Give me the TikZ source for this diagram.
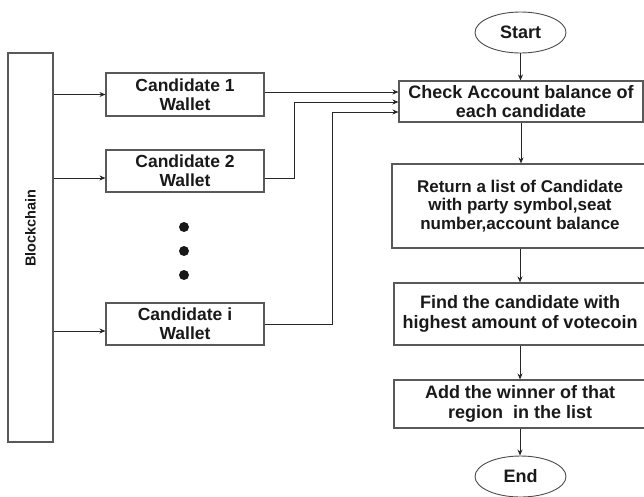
\documentclass[tikz,border=0pt]{standalone}
\usepackage{fontspec}
\setmainfont{Liberation Sans}
\usetikzlibrary{shapes,arrows.meta}

\begin{document}
\begin{tikzpicture}[x=1pt,y=-1pt]
\tikzstyle{every node}=
[
	font=\bfseries\fontsize{18}{19.3}\selectfont,
	text=black!90, align=center, inner sep=0pt
]
\tikzstyle{flow-box}=[draw=black!65, line width=1.1pt, rectangle]
\tikzstyle{wallet-box}=
[
	flow-box, minimum width=158pt, minimum height=42pt,
	font=\bfseries\fontsize{17.5}{19.3}\selectfont
]
\tikzstyle{task-box}=[flow-box, minimum width=252pt]
\tikzstyle{term-node}=[draw=black!70, line width=0.9pt, ellipse, minimum width=91pt, minimum height=41pt]
\tikzstyle{link}=[black!85, line width=0.9pt, -{Stealth[length=6pt,width=5pt]}]

\useasboundingbox (0,0) rectangle (644,496);

% left column
\node[flow-box, minimum width=45pt, minimum height=389pt] (chain) at (30.5,247.5) {};
\node[rotate=90, font=\bfseries\fontsize{14.5}{16}\selectfont] (chain-text) at (30.5,228) {Blockchain};

\node[wallet-box, minimum height=43pt] (wallet-1) at (185,94.5) {Candidate 1\\Wallet};
\node[wallet-box] (wallet-2) at (185,171) {Candidate 2\\Wallet};
\node[wallet-box] (wallet-i) at (185,324) {Candidate i\\Wallet};

\foreach \y in {227,251,275}
	\fill[black!90] (184,\y) circle (5pt);

% right column
\node[term-node] (start) at (520.5,32.5) {Start};
\node[task-box, minimum width=244pt, minimum height=41pt] (check) at (521,101.5)
	{Check Account balance of\\each candidate};
\node[task-box, minimum width=256pt, minimum height=84pt,
	font=\bfseries\fontsize{17}{18.7}\selectfont] (return) at (520,206)
	{Return a list of Candidate\\with party symbol,seat\\number,account balance};
\node[task-box, minimum height=62pt] (find) at (520,314)
	{Find the candidate with\\highest amount of votecoin};
\node[task-box, minimum height=48pt] (add) at (520,404)
	{Add the winner of that\\region\ \ in the list};
\node[term-node] (end) at (520.5,476.5) {End};

\draw[link] (start.south) -- (start.south |- check.north);
\draw[link] (check.south) -- (check.south |- return.north);
\draw[link] (return.south) -- (return.south |- find.north);
\draw[link] (find.south) -- (find.south |- add.north);
\draw[link] (add.south) -- (add.south |- end.north);

% blockchain to wallets
\coordinate (in-2) at ([yshift=-7pt]wallet-2.west);
\coordinate (in-i) at ([yshift=-7pt]wallet-i.west);
\draw[link] (chain.east |- wallet-1.west) -- (wallet-1.west);
\draw[link] (chain.east |- in-2) -- (in-2);
\draw[link] (chain.east |- in-i) -- (in-i);

% wallets to check
\coordinate (chk-1) at ([yshift=9.5pt]check.west);
\coordinate (chk-2) at ([yshift=-0.5pt]check.west);
\coordinate (chk-3) at ([yshift=-10.5pt]check.west);
\draw[link] (wallet-1.east |- chk-1) -- (chk-1);
\draw[link] ([yshift=-7pt]wallet-2.east) -- ++(30,0) |- (chk-2);
\draw[link] (wallet-i.east) -- ++(68,0) |- (chk-3);
\end{tikzpicture}
\end{document}
